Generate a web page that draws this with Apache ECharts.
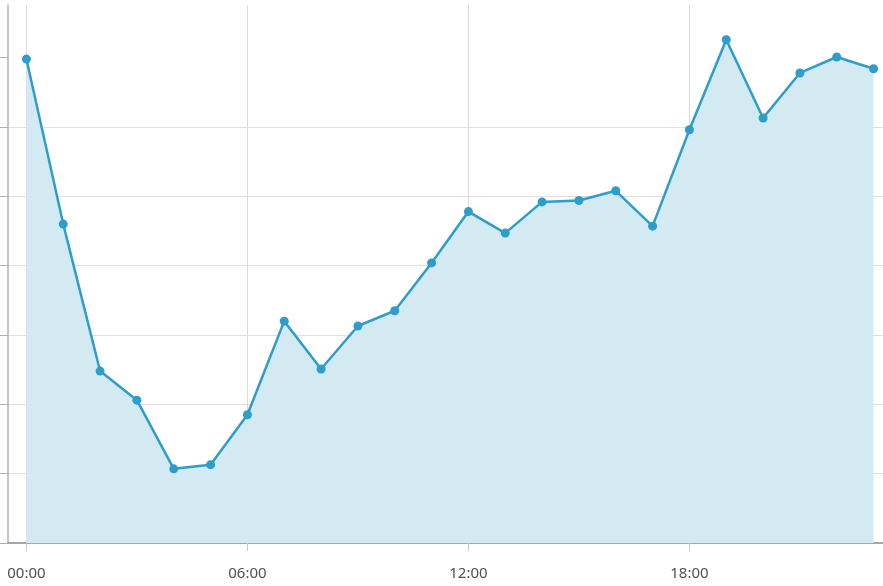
<!DOCTYPE html>
<html><head><meta charset="utf-8">
<script src="https://cdn.jsdelivr.net/npm/echarts@6/dist/echarts.min.js"></script>
<style>html,body{margin:0;padding:0;background:#fff}#c{width:883px;height:586px}</style>
</head><body><div id="c"></div>
<script>
const categories = ['00:00','01:00','02:00','03:00','04:00','05:00','06:00','07:00','08:00','09:00','10:00','11:00','12:00','13:00','14:00','15:00','16:00','17:00','18:00','19:00','20:00','21:00','22:00','23:00'];
const values = [6.98,4.60,2.48,2.06,1.07,1.13,1.85,3.20,2.51,3.13,3.35,4.04,4.78,4.47,4.92,4.94,5.08,4.57,5.96,7.26,6.13,6.78,7.01,6.84];
const yTicks = [0,1,2,3,4,5,6,7];

const chart = echarts.init(document.getElementById('c'), null, {renderer:'canvas'});
chart.setOption({
  animation:false,
  grid:{left:8, width:884, top:5, bottom:43, containLabel:false, outerBoundsMode:'none'},
  xAxis:{
    type:'category', data:categories, boundaryGap:true,
    axisLine:{show:true, lineStyle:{color:'#8a8a8a', width:1.5}},
    axisTick:{show:true, alignWithLabel:true, length:8, interval:(i)=>i%6===0, lineStyle:{color:'#c8c8c8'}},
    axisLabel:{interval:(i)=>i%6===0, color:'#505050', fontSize:15, fontFamily:'Noto Sans', margin:23},
    splitLine:{show:true, alignWithLabel:true, interval:(i)=>i%6===0, lineStyle:{color:'#dcdcdc', width:1}}
  },
  yAxis:{
    type:'value', min:0, max:7.76, interval:1,
    axisLine:{show:true, lineStyle:{color:'#b0b0b0', width:1.5}},
    axisTick:{show:true, inside:false, length:8, customValues:yTicks, lineStyle:{color:'#b0b0b0'}},
    axisLabel:{show:false},
    splitLine:{show:true, showMinLine:false, showMaxLine:false, lineStyle:{color:'#e0e0e0', width:1}}
  },
  series:[{
    type:'line', data:values,
    symbol:'circle', symbolSize:9,
    lineStyle:{color:'#2d9dc9', width:2.5},
    itemStyle:{color:'#2d9dc9'},
    areaStyle:{color:'#d4eaf3', opacity:1}
  }]
});
</script></body></html>
